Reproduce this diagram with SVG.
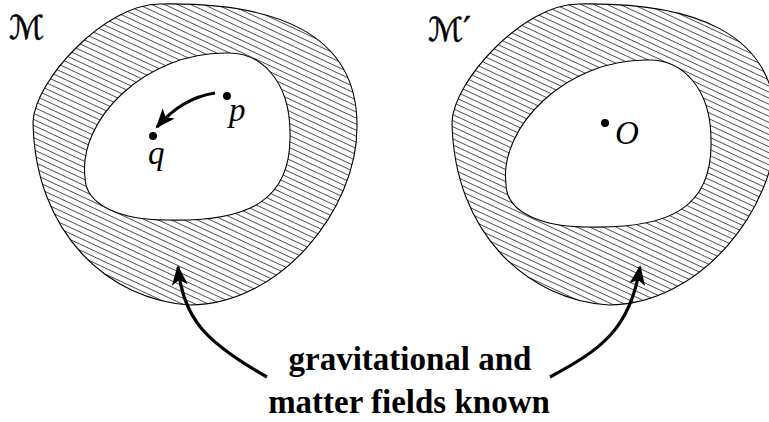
<svg xmlns="http://www.w3.org/2000/svg" width="769" height="422" viewBox="0 0 769 422">
  <style>
    .outer { fill: url(#hatch); stroke: #000; stroke-width: 1.1; }
    .inner { fill: #fff; stroke: #000; stroke-width: 1.1; }
    .dot { fill: #000; }
    .math { font-family: "Liberation Serif", "DejaVu Serif", serif; font-style: italic; font-size: 33px; fill: #000; }
    .cal { font-family: "DejaVu Serif", "DejaVu Sans", serif; font-size: 33px; fill: #000; stroke: #000; stroke-width: 0.6; }
    .note { font-family: "Liberation Serif", "Times New Roman", serif; font-weight: bold; font-size: 33px; fill: #000; text-anchor: middle; }
    .arrow { fill: none; stroke: #000; stroke-width: 3.2; marker-end: url(#head); }
  </style>
  <defs>
    <pattern id="hatch" patternUnits="userSpaceOnUse" width="20" height="5.5" patternTransform="rotate(25)">
      <rect width="20" height="5.5" fill="#fff"/>
      <line x1="0" y1="0.5" x2="20" y2="0.5" stroke="#333" stroke-width="0.85"/>
    </pattern>
    <marker id="head" viewBox="0 0 20 16" markerUnits="userSpaceOnUse" markerWidth="21" markerHeight="16" refX="18" refY="8" orient="auto">
      <path d="M0,0 L20,8 L0,16 L5,8 Z" fill="#000"/>
    </marker>
  </defs>

  <g id="region-M">
    <path class="outer" d="M160,4 C270,2 358,30 357,127 C357,210 280,305 190,305 C110,300 35,235 33,122 C35,80 105,4 160,4 Z"/>
    <path class="inner" d="M85,177 C78,120 145,52 227,53 C260,52 290,80 290,133 C292,200 250,222 167,220 C120,220 85,205 85,177 Z"/>
    <text class="cal" x="9" y="39">ℳ</text>
  </g>

  <g id="point-p">
    <circle class="dot" cx="227" cy="96" r="4"/>
    <text class="math" x="229" y="121">p</text>
  </g>

  <g id="point-q">
    <circle class="dot" cx="153" cy="136" r="4"/>
    <text class="math" x="148" y="164">q</text>
  </g>

  <g id="region-Mprime">
    <path class="outer" d="M579,4 C689,2 777,30 776,127 C776,210 699,305 609,305 C529,300 454,235 452,122 C454,80 524,4 579,4 Z"/>
    <path class="inner" d="M506,184 C499,127 566,59 648,60 C681,59 711,87 711,140 C713,207 671,229 588,227 C541,227 506,212 506,184 Z"/>
    <text class="cal" x="428" y="41">ℳ′</text>
  </g>

  <g id="point-O">
    <circle class="dot" cx="605" cy="123" r="4"/>
    <text class="math" x="615" y="144">O</text>
  </g>

  <g id="label">
    <text class="note" x="410" y="370">gravitational and</text>
    <text class="note" x="409" y="413">matter fields known</text>
  </g>

  <g id="connectors">
    <path class="arrow" d="M215,93 C195,96 176,105 157,127"/>
    <path class="arrow" d="M267,377 C205,342 183,318 178,267"/>
    <path class="arrow" d="M550,377 C600,350 630,330 640,267"/>
  </g>
</svg>
